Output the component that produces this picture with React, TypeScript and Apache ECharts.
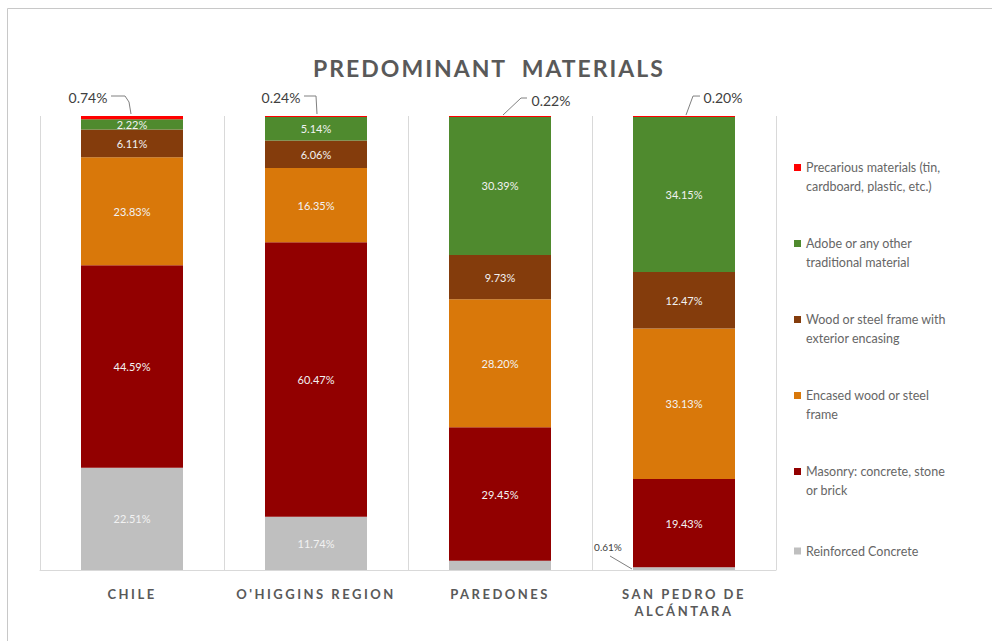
import React, { useEffect, useRef } from 'react';
import * as echarts from 'echarts';

// Categories (bottom axis)
const categories = ['CHILE', "O'HIGGINS REGION", 'PAREDONES', 'SAN PEDRO DE\nALCÁNTARA'];

// Series names (stack order bottom -> top)
const seriesNames = [
  'Reinforced Concrete',
  'Masonry: concrete, stone or brick',
  'Encased wood or steel frame',
  'Wood or steel frame with exterior encasing',
  'Adobe or any other traditional material',
  'Precarious materials (tin, cardboard, plastic, etc.)',
];

// Values (%), one per category
const reinforcedConcrete = [22.51, 11.74, 2.01, 0.61];
const masonry = [44.59, 60.47, 29.45, 19.43];
const encasedFrame = [23.83, 16.35, 28.2, 33.13];
const woodSteelFrame = [6.11, 6.06, 9.73, 12.47];
const adobe = [2.22, 5.14, 30.39, 34.15];
const precarious = [0.74, 0.24, 0.22, 0.2];

const seriesValues = [reinforcedConcrete, masonry, encasedFrame, woodSteelFrame, adobe, precarious];
const seriesColors = ['#bfbfbf', '#920000', '#d9780a', '#843c0c', '#4f8a2e', '#ff0000'];

const legendWrapped: Record<string, string> = {
  'Precarious materials (tin, cardboard, plastic, etc.)': 'Precarious materials (tin,\ncardboard, plastic, etc.)',
  'Adobe or any other traditional material': 'Adobe or any other\ntraditional material',
  'Wood or steel frame with exterior encasing': 'Wood or steel frame with\nexterior encasing',
  'Encased wood or steel frame': 'Encased wood or steel\nframe',
  'Masonry: concrete, stone or brick': 'Masonry: concrete, stone\nor brick',
  'Reinforced Concrete': 'Reinforced Concrete',
};

// Callout geometry (offsets from anchor point, in px): text centre and leader polyline
const calloutText = [[-44, -19], [-35, -19], [51, -16], [39, -19], [-76, -23]];
const calloutLine = [
  [[-21, -20], [-7, -20], [-3, -14], [-1, -2]],
  [[-12, -20], [0, -20], [1, -2]],
  [[27, -18], [21, -18], [3, -1]],
  [[16, -20], [9, -20], [2, -1]],
  [[-74, -14], [-52, -1]],
];
const calloutFont = [14, 14, 14, 14, 10];

const FONT = 'Lato, "Open Sans", sans-serif';

export default function App() {
  const ref = useRef<HTMLDivElement>(null);
  useEffect(() => {
    if (!ref.current) return;
    const chart = echarts.init(ref.current, null, { renderer: 'svg' });
    const lastIdx = seriesNames.length - 1;
    const series: any[] = seriesNames.map((name, si) => {
      const vals = seriesValues[si];
      const isTop = si === lastIdx;
      const isRC = si === 0;
      const data = vals.map((v, di) => {
        const item: any = { value: v };
        if (isRC && (di === 2 || di === 3)) item.label = { show: false };
        return item;
      });
      return {
        name,
        type: 'bar',
        stack: 'total',
        barWidth: 102,
        data,
        itemStyle: { color: seriesColors[si] },
        label: {
          show: !isTop,
          position: 'inside',
          color: '#f2f2f2',
          fontSize: 11,
          fontFamily: FONT,
          formatter: (p: any) => Number(p.value).toFixed(2) + '%',
        },
      };
    });

    // callouts for small segments: [categoryIndex, anchorValue, labelValue, kind]
    const stackTotals = categories.map((_, ci) => seriesValues.reduce((s, arr) => s + arr[ci], 0));
    const calloutData = [
      ...precarious.map((v, ci) => [ci, stackTotals[ci], v, 0]),
      [3, 0, reinforcedConcrete[3], 1],
    ];
    series.push({
      type: 'custom',
      name: 'callouts',
      silent: true,
      z: 5,
      data: calloutData,
      encode: { x: 0, y: 1 },
      renderItem: (params: any, api: any) => {
        const i = params.dataIndex;
        const pt = api.coord([api.value(0), api.value(1)]);
        const t = calloutText[i];
        return {
          type: 'group',
          children: [
            {
              type: 'polyline',
              shape: { points: calloutLine[i].map((p) => [pt[0] + p[0], pt[1] + p[1]]) },
              style: { stroke: '#808080', fill: null, lineWidth: 1 },
            },
            {
              type: 'text',
              x: pt[0] + t[0],
              y: pt[1] + t[1],
              style: {
                text: Number(api.value(2)).toFixed(2) + '%',
                fill: '#404040',
                font: `${calloutFont[i]}px ${FONT}`,
                align: 'center',
                verticalAlign: 'middle',
              },
            },
          ],
        };
      },
    });

    const legendOrder = [...seriesNames].reverse();
    const twoLineIcon = 'path://M0,0h7v7h-7zM0,26h7v0h-7z';
    const oneLineIcon = 'path://M0,9.5h7v7h-7zM0,0h7v0h-7zM0,26h7v0h-7z';

    chart.setOption({
      animation: false,
      backgroundColor: '#ffffff',
      textStyle: { fontFamily: FONT },
      graphic: [
        {
          type: 'rect',
          shape: { x: 7.5, y: 8.5, width: 1200, height: 1000 },
          style: { fill: 'none', stroke: '#c8c8c8', lineWidth: 1 },
          silent: true,
          z: -10,
        },
        {
          type: 'text',
          x: 489,
          y: 68,
          style: {
            text: 'PREDOMINANT  MATERIALS',
            fill: '#595959',
            font: 'bold 23px ' + FONT,
            align: 'center',
            verticalAlign: 'middle',
          },
        },
      ],
      legend: {
        orient: 'vertical',
        left: 789,
        top: 153,
        itemWidth: 7,
        itemHeight: 26,
        itemGap: 38,
        data: legendOrder.map((n) => ({
          name: n,
          icon: n === 'Reinforced Concrete' ? oneLineIcon : twoLineIcon,
        })),
        formatter: (n: string) => legendWrapped[n] || n,
        textStyle: { color: '#666666', fontSize: 12.5, lineHeight: 19, fontFamily: FONT },
        selectedMode: false,
      },
      grid: { left: 40, right: 216, top: 116, bottom: 71 },
      xAxis: {
        type: 'category',
        data: categories,
        axisLine: { show: true, lineStyle: { color: '#d9d9d9' } },
        axisTick: { show: false },
        splitLine: { show: true, lineStyle: { color: '#d9d9d9' } },
        axisLabel: {
          color: '#595959',
          fontSize: 13,
          fontWeight: 'bold',
          fontFamily: FONT,
          margin: 15,
          lineHeight: 17,
        },
      },
      yAxis: {
        type: 'value',
        min: 0,
        max: 100,
        show: false,
        splitLine: { show: false },
      },
      series,
    });
    return () => chart.dispose();
  }, []);

  return (
    <>
      <style>{`.chartbox text[style*="bold"] { letter-spacing: 2.5px; }
.chartbox text[style*="bold 23px"] { letter-spacing: 2px; }`}</style>
      <div
        ref={ref}
        className="chartbox"
        style={{ position: 'absolute', left: 0, top: 0, width: 992, height: 641 }}
      />
    </>
  );
}
